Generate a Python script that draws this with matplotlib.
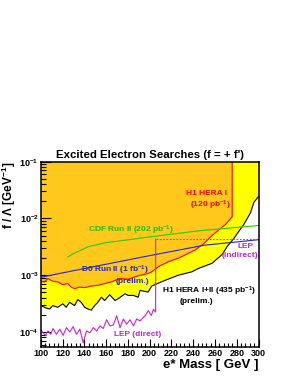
import matplotlib
matplotlib.use('Agg')
import matplotlib.pyplot as plt
from matplotlib.ticker import LogLocator, MultipleLocator, FixedLocator, FixedFormatter

plt.rcParams['font.family'] = ['Liberation Sans', 'DejaVu Sans']
plt.rcParams['font.weight'] = 'bold'
plt.rcParams['mathtext.fontset'] = 'custom'
plt.rcParams['mathtext.rm'] = 'Liberation Sans:bold'
plt.rcParams['mathtext.bf'] = 'Liberation Sans:bold'
plt.rcParams['mathtext.it'] = 'Liberation Sans:bold'
plt.rcParams['mathtext.default'] = 'bf'

# H1 HERA I+II (435 pb-1), lower edge of the yellow region
m_h1 = [100.3, 104.9, 108.3, 111, 115.7, 120.3, 123.3, 126.5, 131, 134.1, 137.1, 140.3,
        143.3, 146.4, 149.5, 152.5, 155.6, 158.7, 163.3, 168.2, 171, 177.4, 180.2, 185.1,
        189.4, 191.2, 198.6, 202, 214.3, 226.5, 238.9, 245, 257.3, 266.6, 271.2, 277.2,
        281.9, 286.5, 292.6, 295.7, 300]
lim_h1 = [2.91e-4, 2.63e-4, 2.54e-4, 2.91e-4, 2.72e-4, 3.13e-4, 2.72e-4, 3.33e-4, 2.91e-4,
          3.72e-4, 3.33e-4, 2.72e-4, 2.54e-4, 2.42e-4, 2.91e-4, 3.33e-4, 4.09e-4, 3.58e-4,
          4.52e-4, 3.58e-4, 3.84e-4, 4.71e-4, 4.40e-4, 4.40e-4, 4.09e-4, 5.40e-4, 5.04e-4,
          6.46e-4, 8.13e-4, 1.0e-3, 1.15e-3, 1.32e-3, 1.62e-3, 2.32e-3, 3.20e-3, 4.40e-3,
          5.93e-3, 7.82e-3, 1.26e-2, 1.91e-2, 2.45e-2]

# H1 HERA I (120 pb-1), edge of the orange region
m_hera1 = [100.3, 103.4, 106.5, 111.1, 115.7, 120.3, 124.9, 127.9, 131.1, 135.7, 140.3,
           146.4, 152.5, 158.7, 164.8, 172.5, 180.2, 189.4, 198.6, 202, 208.1, 217.3,
           226.5, 235.8, 241.9, 249.6, 255.8, 261.9, 269.6, 275.8, 275.8]
lim_hera1 = [7.82e-4, 7.59e-4, 8.71e-4, 7.82e-4, 7.59e-4, 6.82e-4, 7.11e-4, 6.18e-4, 5.79e-4,
             6.18e-4, 6.03e-4, 6.44e-4, 6.62e-4, 7.11e-4, 7.59e-4, 8.73e-4, 8.49e-4, 9.73e-4,
             1.07e-3, 1.15e-3, 1.41e-3, 1.73e-3, 1.99e-3, 2.44e-3, 2.79e-3, 3.58e-3, 4.71e-3,
             5.93e-3, 7.82e-3, 1.07e-2, 1.0e-1]

# CDF Run II (202 pb-1)
m_cdf = [125, 129.5, 143.3, 159, 173.7, 198.6, 246.5, 300]
lim_cdf = [2.09e-3, 2.37e-3, 3.16e-3, 3.72e-3, 4.05e-3, 4.68e-3, 6.1e-3, 7.5e-3]

# D0 Run II (1 fb-1)
m_d0 = [100, 150, 200, 250, 300]
lim_d0 = [9.2e-4, 1.43e-3, 2.21e-3, 3.37e-3, 4.22e-3]

# LEP direct
m_lep = [100, 102.1, 104.2, 106.7, 109.2, 111.3, 114.4, 117.5, 120.5, 123.6, 126.7, 129.8,
         132.8, 135.9, 139, 142, 145.2, 148.2, 151.3, 154.4, 157.4, 160.5, 163.6, 166.6,
         169.7, 172.8, 175.9, 178.9, 182, 185.1, 188.1, 191.2, 195.8, 198.8, 201.5, 203.5,
         205.5, 205.5]
lim_lep = [1.12e-4, 9.7e-5, 8.7e-5, 1.04e-4, 9.1e-5, 1.15e-4, 9.1e-5, 1.12e-4, 8.7e-5,
           1.19e-4, 1.0e-4, 1.24e-4, 9.1e-5, 1.12e-4, 6.4e-5, 1.04e-4, 9.7e-5, 1.19e-4,
           1.04e-4, 1.28e-4, 1.15e-4, 1.64e-4, 1.28e-4, 1.32e-4, 1.93e-4, 1.19e-4, 1.69e-4,
           1.37e-4, 1.64e-4, 1.28e-4, 1.69e-4, 1.57e-4, 1.93e-4, 2.37e-4, 1.95e-4, 2.5e-4,
           2.24e-4, 4.3e-3]

# LEP indirect
m_lep_ind = [205.5, 300]
lim_lep_ind = [4.3e-3, 4.3e-3]

x_min, x_max = 100, 300
y_min, y_max = 5.5e-5, 1e-1

fig = plt.figure(figsize=(2.91, 3.76), dpi=100)
ax = fig.add_axes([0.14, 0.078, 0.7485, 0.492])

# excluded regions
ax.fill(m_h1 + [x_max, x_min], lim_h1 + [y_max, y_max], color='#ffff00', lw=0)
ax.fill(m_hera1 + [x_min], lim_hera1 + [y_max], color='#ffc81a', lw=0)

ax.plot(m_h1, lim_h1, color='black', lw=0.8)
ax.plot(m_hera1, lim_hera1, color='#ff0000', lw=0.8)
ax.plot(m_cdf, lim_cdf, color='#22cc00', lw=0.8)
ax.plot(m_d0, lim_d0, color='#2222dd', lw=0.8)
ax.plot(m_lep, lim_lep, color='#cc22cc', lw=0.8)
ax.plot(m_lep_ind, lim_lep_ind, color='#cc22cc', lw=0.8, ls=(0, (1.5, 1.5)))

ax.set_xlim(x_min, x_max)
ax.set_yscale('log')
ax.set_ylim(y_min, y_max)

# labels
fs = 6
ax.text(271, 2.7e-2, 'H1 HERA I', color='#ff0000', fontsize=fs, ha='right', va='center')
ax.text(274, 1.68e-2, r'(120 pb$^{-1}$)', color='#ff0000', fontsize=fs, ha='right', va='center')
ax.text(143.4, 6.07e-3, r'CDF Run II (202 pb$^{-1}$)', color='#22bb00', fontsize=fs, ha='left', va='center')
ax.text(199.4, 1.23e-3, r'D0 Run II (1 fb$^{-1}$)', color='#2222cc', fontsize=fs, ha='right', va='center')
ax.text(199.4, 7.87e-4, '(prelim.)', color='#2222cc', fontsize=fs, ha='right', va='center')
ax.text(288, 3.17e-3, 'LEP', color='#cc22cc', fontsize=fs, ha='center', va='center')
ax.text(283.3, 2.26e-3, '(indirect)', color='#cc22cc', fontsize=fs, ha='center', va='center')
ax.text(254.1, 5.25e-4, r'H1 HERA I+II (435 pb$^{-1}$)', color='black', fontsize=fs, ha='center', va='center')
ax.text(243, 3.49e-4, '(prelim.)', color='black', fontsize=fs, ha='center', va='center')
ax.text(189.3, 9.14e-5, 'LEP (direct)', color='#cc22cc', fontsize=fs, ha='center', va='center')

ax.set_title("Excited Electron Searches (f = + f')", fontsize=8.2, fontweight='bold', pad=3)
ax.set_xlabel('e* Mass [ GeV ]', fontsize=9.5, fontweight='bold', loc='right', labelpad=1)
ax.set_ylabel(r'f / $\Lambda$ [GeV$^{-1}$]', fontsize=8.5, fontweight='bold', loc='top')
ax.yaxis.set_label_coords(-0.105, 1.0)

# ROOT-like ticks
ax.xaxis.set_major_locator(MultipleLocator(20))
ax.xaxis.set_minor_locator(MultipleLocator(4))
ax.yaxis.set_major_locator(FixedLocator([1e-4, 1e-3, 1e-2, 1e-1]))
ax.yaxis.set_major_formatter(FixedFormatter([r'$10^{-4}$', r'$10^{-3}$', r'$10^{-2}$', r'$10^{-1}$']))
ax.yaxis.set_minor_locator(LogLocator(base=10, subs=range(2, 10)))
ax.yaxis.set_minor_formatter(FixedFormatter([]))
ax.tick_params(which='both', direction='in', top=False, right=False, width=0.8)
ax.tick_params(axis='x', which='major', length=6, labelsize=6.5, pad=1.5)
ax.tick_params(axis='x', which='minor', length=3)
ax.tick_params(axis='y', which='major', length=7, labelsize=6.5, pad=1.5)
ax.tick_params(axis='y', which='minor', length=3.5)
for lab in ax.get_xticklabels():
    lab.set_fontweight('bold')
for sp in ax.spines.values():
    sp.set_linewidth(1.1)

fig.savefig('out.png', dpi=100)
